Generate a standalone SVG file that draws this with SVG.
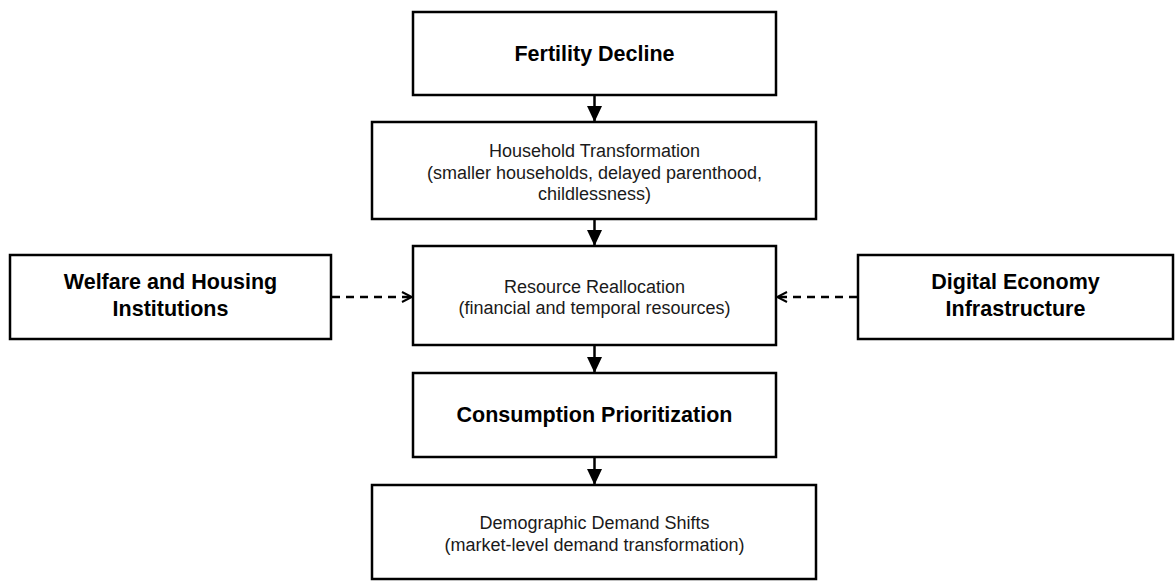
<svg xmlns="http://www.w3.org/2000/svg" width="1175" height="581" viewBox="0 0 1175 581">
<defs>
<style>
.box{fill:#fff;stroke:#000;stroke-width:2.5}
.b{font-family:"Liberation Sans",Arial,sans-serif;font-weight:bold;font-size:21.5px;fill:#000;text-anchor:middle}
.r{font-family:"Liberation Sans",Arial,sans-serif;font-size:18px;fill:#1a1a1a;text-anchor:middle}
.solid{stroke:#000;stroke-width:2.5;fill:none}
.dash{stroke:#000;stroke-width:2.5;fill:none;stroke-dasharray:8 6}
</style>
<marker id="tri" viewBox="0 0 16 15" refX="16" refY="7.5" markerWidth="16" markerHeight="15" markerUnits="userSpaceOnUse" orient="auto">
<path d="M0,0 L16,7.5 L0,15 Z" fill="#000"/>
</marker>
<marker id="open" viewBox="0 0 12 12" refX="11" refY="6" markerWidth="12" markerHeight="12" markerUnits="userSpaceOnUse" orient="auto">
<path d="M1,1 L11,6 L1,11" fill="none" stroke="#000" stroke-width="2"/>
</marker>
</defs>
<rect width="1175" height="581" fill="#fff"/>
<g id="connectors">
<line class="solid" x1="594.5" y1="95" x2="594.5" y2="122" marker-end="url(#tri)"/>
<line class="solid" x1="594.5" y1="219" x2="594.5" y2="246" marker-end="url(#tri)"/>
<line class="solid" x1="594.5" y1="345" x2="594.5" y2="373" marker-end="url(#tri)"/>
<line class="solid" x1="594.5" y1="457" x2="594.5" y2="485" marker-end="url(#tri)"/>
<line class="dash" x1="332" y1="297" x2="412" y2="297" marker-end="url(#open)"/>
<line class="dash" x1="857" y1="297" x2="777" y2="297" marker-end="url(#open)"/>
</g>
<g id="fertility">
<rect class="box" x="413" y="12" width="363" height="83"/>
<text class="b" x="594.5" y="61">Fertility Decline</text>
</g>
<g id="household">
<rect class="box" x="372" y="122" width="444" height="97"/>
<text class="r" x="594.5" y="157">Household Transformation</text>
<text class="r" x="594.5" y="179">(smaller households, delayed parenthood,</text>
<text class="r" x="594.5" y="200">childlessness)</text>
</g>
<g id="resource">
<rect class="box" x="413" y="246" width="363" height="99"/>
<text class="r" x="594.5" y="293">Resource Reallocation</text>
<text class="r" x="594.5" y="314">(financial and temporal resources)</text>
</g>
<g id="welfare">
<rect class="box" x="10" y="255" width="321" height="84"/>
<text class="b" x="170.5" y="289">Welfare and Housing</text>
<text class="b" x="170.5" y="316">Institutions</text>
</g>
<g id="digital">
<rect class="box" x="858" y="255" width="315" height="84"/>
<text class="b" x="1015.5" y="289">Digital Economy</text>
<text class="b" x="1015.5" y="316">Infrastructure</text>
</g>
<g id="consumption">
<rect class="box" x="413" y="373" width="363" height="84"/>
<text class="b" x="594.5" y="422">Consumption Prioritization</text>
</g>
<g id="demographic">
<rect class="box" x="372" y="485" width="444" height="94"/>
<text class="r" x="594.5" y="529">Demographic Demand Shifts</text>
<text class="r" x="594.5" y="551">(market-level demand transformation)</text>
</g>
</svg>
